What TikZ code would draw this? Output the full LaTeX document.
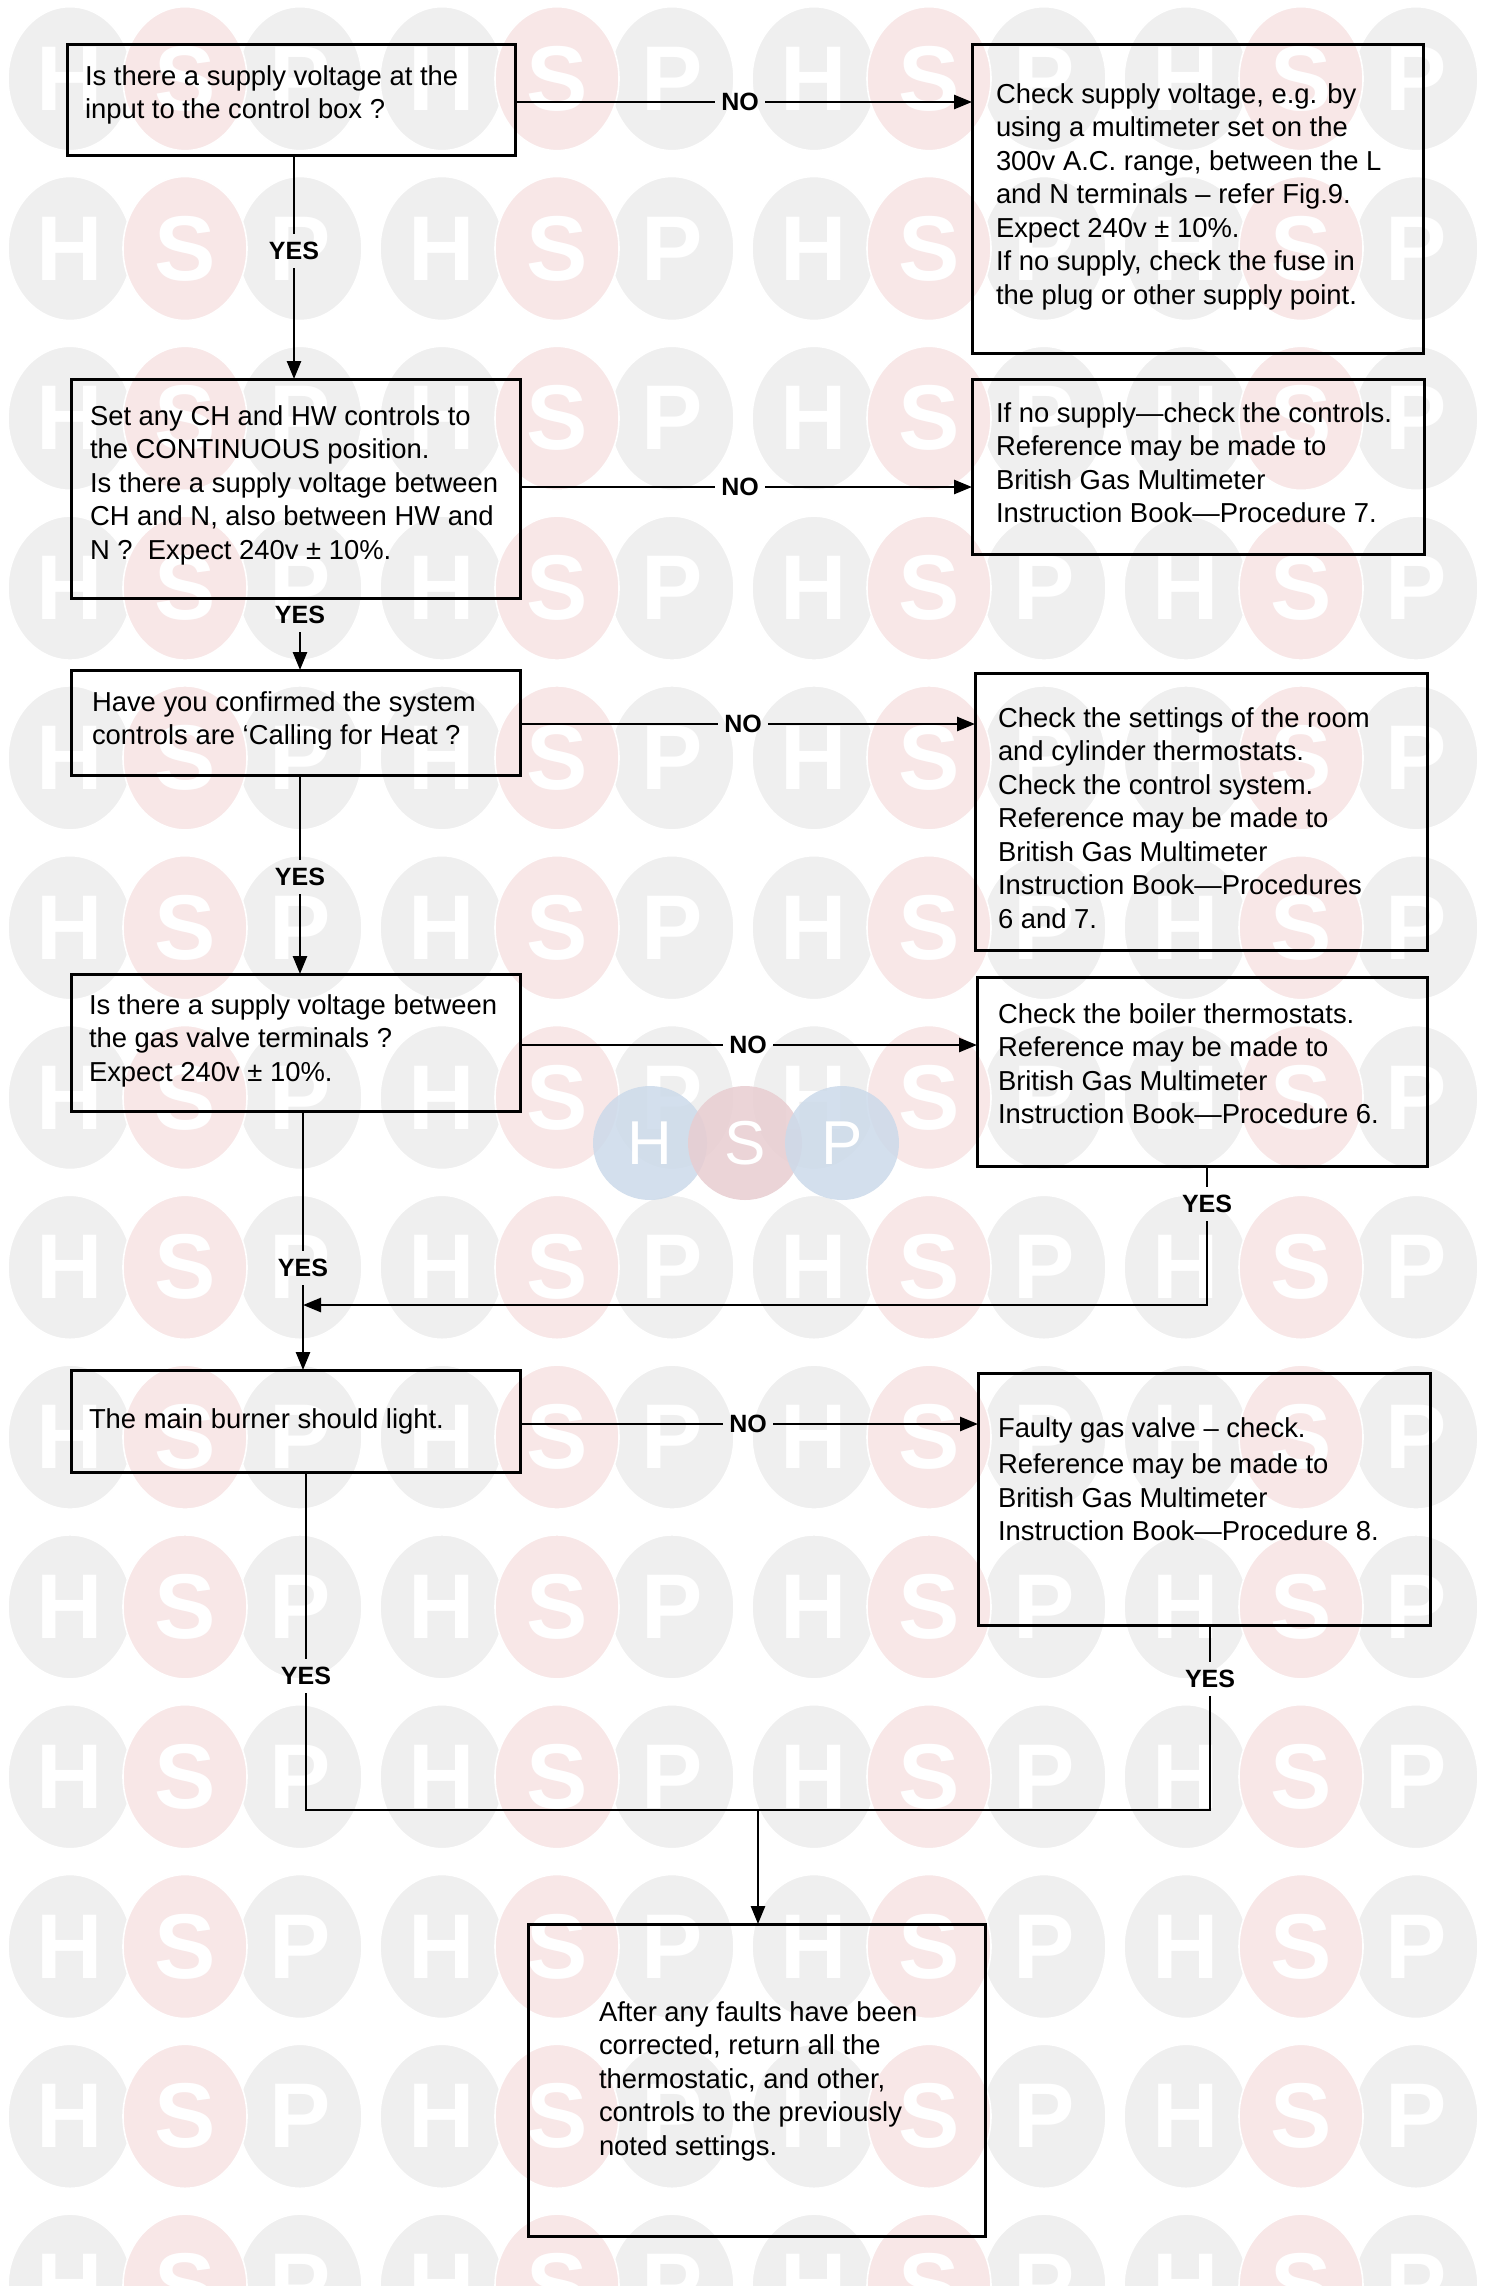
\documentclass[tikz,border=0pt]{standalone}
\usepackage{fontspec}
\setmainfont{Liberation Sans}
\usetikzlibrary{arrows.meta}
\definecolor{wmgray}{HTML}{EFEFEF}
\definecolor{wmpink}{HTML}{F8E7E7}
\definecolor{lgblue}{HTML}{CCDAEA}
\definecolor{lgpink}{HTML}{E8CDD1}
\tikzset{
  bx/.style={draw=black, line width=1.5pt, inner sep=0pt, outer sep=0pt},
  txt/.style={inner sep=0pt, outer sep=0pt, anchor=base west,
    font=\fontsize{13.7pt}{16.75pt}\selectfont},
  lbl/.style={font=\fontsize{12.5pt}{14pt}\selectfont\bfseries, inner xsep=3pt, inner ysep=4pt},
  conn/.style={line width=1.3pt},
  arr/.style={conn, -{Triangle[length=9pt,width=7pt]}},
  wmg/.style={fill=wmgray, draw=white, line width=0.8pt},
  wmp/.style={fill=wmpink, draw=white, line width=0.8pt},
  wml/.style={text=white, inner sep=0pt, font=\fontsize{46pt}{46pt}\selectfont\bfseries},
  lgl/.style={text=white, inner sep=0pt, font=\fontsize{31pt}{31pt}\selectfont},
}
\newcommand\fbx[5]{\node[bx, minimum width={(#4-#2)*0.5pt}, minimum height={(#5-#3)*0.5pt}] (#1) at ({(#2+#4)/2},{(#3+#5)/2}) {};}
\newcommand\btxt[4]{\node[txt] (#1) at (#2,#3) {\parbox[t]{300pt}{#4}};}
\begin{document}
\begin{tikzpicture}[x=0.5pt,y=-0.5pt]
\useasboundingbox (0,0) rectangle (1500,2286);
\fill[white] (0,0) rectangle (1500,2286);
% watermark
\foreach \r in {0,...,13}{
  \foreach \g in {0,...,3}{
    \pgfmathsetmacro\yy{78.7+169.8*\r}
    \pgfmathsetmacro\xh{70+372*\g}
    \pgfmathsetmacro\xs{185+372*\g}
    \pgfmathsetmacro\xp{300+372*\g}
    \path[wmg] (\xh,\yy) ellipse [x radius=31pt, y radius=36pt];
    \path[wmg] (\xp,\yy) ellipse [x radius=31pt, y radius=36pt];
    \path[wmp] (\xs,\yy) ellipse [x radius=31pt, y radius=36pt];
    \node[wml] (wh\r\g) at (\xh,\yy) {H};
    \node[wml] (ws\r\g) at (\xs,\yy) {S};
    \node[wml] (wp\r\g) at (\xp,\yy) {P};
  }
}
% central logo
\fill[lgblue, opacity=.85] (650,1143) circle [radius=28.5pt];
\fill[lgpink, opacity=.85] (745,1143) circle [radius=28.5pt];
\fill[lgblue, opacity=.85] (842,1143) circle [radius=28.5pt];
\node[lgl] (lgh) at (650,1143) {H};
\node[lgl] (lgs) at (745,1143) {S};
\node[lgl] (lgp) at (842,1143) {P};

% boxes
\fbx{b1}{67}{44}{515}{155}
\fbx{r1}{972}{44}{1423}{353}
\fbx{b2}{71}{379}{520}{598}
\fbx{r2}{972}{379}{1424}{554}
\fbx{b3}{71}{670}{520}{775}
\fbx{r3}{975}{673}{1427}{950}
\fbx{b4}{71}{974}{520}{1111}
\fbx{r4}{977}{977}{1427}{1166}
\fbx{b5}{71}{1370}{520}{1472}
\fbx{r5}{978}{1373}{1430}{1625}
\fbx{b6}{528}{1924}{985}{2236}

% texts
\btxt{t1}{85}{85}{Is there a supply voltage at the\\input to the control box ?}
\btxt{tr1}{996}{103}{Check supply voltage, e.g. by\\using a multimeter set on the\\300v A.C. range, between the L\\and N terminals -- refer Fig.9.\\Expect 240v ± 10\%.\\If no supply, check the fuse in\\the plug or other supply point.}
\btxt{t2}{90}{425}{Set any CH and HW controls to\\the CONTINUOUS position.\\Is there a supply voltage between\\CH and N, also between HW and\\N ?~~Expect 240v ± 10\%.}
\btxt{tr2}{996}{422}{If no supply---check the controls.\\Reference may be made to\\British Gas Multimeter\\Instruction Book---Procedure 7.}
\btxt{t3}{92}{711}{Have you confirmed the system\\controls are ‘Calling for Heat ?}
\btxt{tr3}{998}{727}{Check the settings of the room\\and cylinder thermostats.\\Check the control system.\\Reference may be made to\\British Gas Multimeter\\Instruction Book---Procedures\\6 and 7.}
\btxt{t4}{89}{1014}{Is there a supply voltage between\\the gas valve terminals ?\\Expect 240v ± 10\%.}
\btxt{tr4}{998}{1023}{Check the boiler thermostats.\\Reference may be made to\\British Gas Multimeter\\Instruction Book---Procedure 6.}
\btxt{t5}{89}{1428}{The main burner should light.}
\btxt{tr5}{998}{1437}{Faulty gas valve -- check.\\[1.7pt]Reference may be made to\\British Gas Multimeter\\Instruction Book---Procedure 8.}
\btxt{t6}{599}{2021}{After any faults have been\\corrected, return all the\\thermostatic, and other,\\controls to the previously\\noted settings.}

% labels
\node[lbl] (no1) at (740,102) {NO};
\node[lbl] (no2) at (740,487) {NO};
\node[lbl] (no3) at (743,724) {NO};
\node[lbl] (no4) at (748,1045) {NO};
\node[lbl] (no5) at (748,1424) {NO};
\node[lbl] (yes1) at (294,251) {YES};
\node[lbl] (yes2) at (300,615) {YES};
\node[lbl] (yes3) at (300,877) {YES};
\node[lbl] (yes4) at (303,1268) {YES};
\node[lbl] (yes5) at (306,1676) {YES};
\node[lbl] (yesr4) at (1207,1204) {YES};
\node[lbl] (yesr5) at (1210,1679) {YES};

% NO connectors
\draw[conn] (no1 -| b1.east) -- (no1);
\draw[arr] (no1) -- (no1 -| r1.west);
\draw[conn] (no2 -| b2.east) -- (no2);
\draw[arr] (no2) -- (no2 -| r2.west);
\draw[conn] (no3 -| b3.east) -- (no3);
\draw[arr] (no3) -- (no3 -| r3.west);
\draw[conn] (no4 -| b4.east) -- (no4);
\draw[arr] (no4) -- (no4 -| r4.west);
\draw[conn] (no5 -| b5.east) -- (no5);
\draw[arr] (no5) -- (no5 -| r5.west);

% YES connectors
\draw[conn] (yes1 |- b1.south) -- (yes1);
\draw[arr] (yes1) -- (yes1 |- b2.north);
\draw[arr] (yes2) -- (yes2 |- b3.north);
\draw[conn] (yes3 |- b3.south) -- (yes3);
\draw[arr] (yes3) -- (yes3 |- b4.north);
\draw[conn] (yes4 |- b4.south) -- (yes4);
\draw[arr] (yes4) -- (yes4 |- b5.north);
\draw[conn] (yesr4 |- r4.south) -- (yesr4);
\coordinate (m4) at (303,1305);
\draw[arr] (yesr4) |- (m4);

% bottom bus
\draw[conn] (yes5 |- b5.south) -- (yes5);
\draw[conn] (yesr5 |- r5.south) -- (yesr5);
\coordinate (bl) at (306,1810);
\coordinate (br) at (1210,1810);
\coordinate (bm) at (758,1810);
\draw[conn] (yes5) -- (bl) -- (br) -- (yesr5);
\draw[arr] (bm) -- (bm |- b6.north);
\end{tikzpicture}
\end{document}
